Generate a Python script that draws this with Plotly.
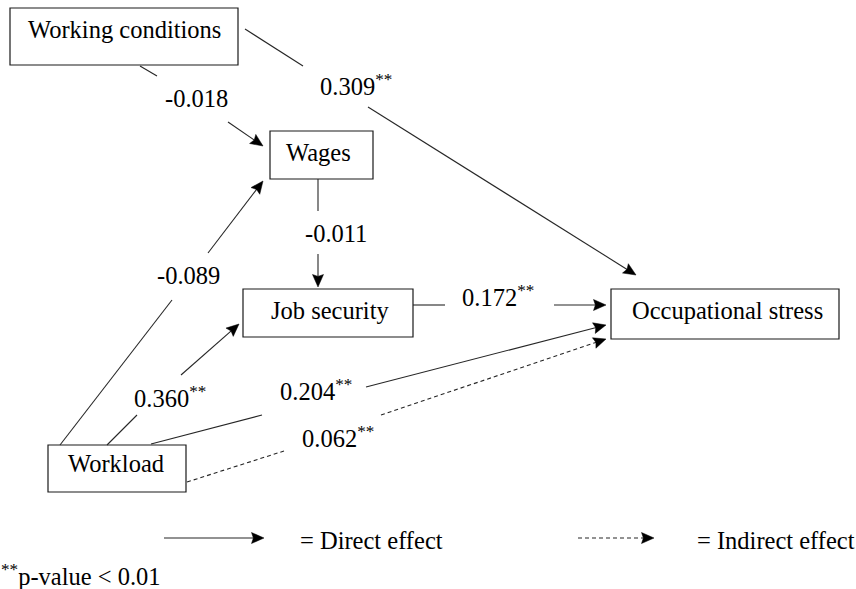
import plotly.graph_objects as go

# ---------------- data ----------------
node_names = ["Working conditions", "Wages", "Job security", "Occupational stress", "Workload"]
path_from = ["Working conditions", "Working conditions", "Wages", "Workload", "Workload", "Workload", "Workload", "Job security"]
path_to = ["Wages", "Occupational stress", "Job security", "Wages", "Job security", "Occupational stress", "Occupational stress", "Occupational stress"]
path_coef = ["-0.018", "0.309", "-0.011", "-0.089", "0.360", "0.204", "0.062", "0.172"]
path_signif = [False, True, False, False, True, True, True, True]
path_effect = ["direct", "direct", "direct", "direct", "direct", "direct", "indirect", "direct"]
legend_labels = ["= Direct effect", "= Indirect effect"]
legend_kinds = ["direct", "indirect"]
footnote_text = "p-value < 0.01"
signif_mark = "**"

# ---------------- layout (pixel coordinates) ----------------
W, H = 856, 589
box_rect = {  # x0, y0, x1, y1
    "Working conditions": (10, 8, 238, 65),
    "Wages": (270, 131, 373, 179),
    "Job security": (243, 289, 413, 337),
    "Occupational stress": (611, 289, 839, 339),
    "Workload": (48, 445, 186, 492),
}
box_text_pos = {
    "Working conditions": (124, 29),
    "Wages": (318, 152),
    "Job security": (330, 310),
    "Occupational stress": (727, 310),
    "Workload": (116, 463),
}
# start, gap-begin, gap-end, arrow tip
path_geom = [
    ((140, 66), (157, 76), (228, 122), (263, 146)),
    ((245, 29), (303, 66), (368, 107), (636, 275)),
    ((318, 179), (318, 211), (318, 254), (318, 287)),
    ((60, 445), (172, 300), (208, 253), (263, 181)),
    ((107, 445), (137, 415), (181, 375), (239, 324)),
    ((151, 444), (262, 415), (366, 387), (606, 325)),
    ((187, 482), (284, 451), (381, 415), (606, 339)),
    ((413, 305), (445, 305), (554, 305), (606, 305)),
]
label_pos = [  # left x, middle y of the number
    (163, 98), (318, 85), (303, 233), (155, 275), (132, 397), (278, 390), (300, 437), (460, 296),
]
legend_geom = [((164, 538), (264, 538), (298, 540)), ((578, 538), (654, 538), (695, 540))]
footnote_pos = (0, 575)

FONT = "Liberation Serif, Times New Roman, serif"
LINE_C = "#262626"
BOX_C = "#1a1a1a"
FS = 24.5
HEAD_L, HEAD_W = 12.5, 5.5
DASH = "4px,3px"

fig = go.Figure()
shapes = []
annotations = []


def seg(p0, p1, dash):
    shapes.append(dict(type="line", x0=p0[0], y0=p0[1], x1=p1[0], y1=p1[1],
                       xref="x", yref="y", line=dict(color=LINE_C, width=1.1, dash=dash)))


def head(p0, p1):
    dx, dy = p1[0] - p0[0], p1[1] - p0[1]
    L = (dx * dx + dy * dy) ** 0.5
    ux, uy = dx / L, dy / L
    nx, ny = -uy, ux
    bx, by = p1[0] - ux * HEAD_L, p1[1] - uy * HEAD_L
    mx, my = p1[0] - ux * HEAD_L * 0.85, p1[1] - uy * HEAD_L * 0.85
    pts = [(p1[0], p1[1]), (bx + nx * HEAD_W, by + ny * HEAD_W), (mx, my),
           (bx - nx * HEAD_W, by - ny * HEAD_W)]
    path = "M " + " L ".join(f"{x:.2f},{y:.2f}" for x, y in pts) + " Z"
    shapes.append(dict(type="path", path=path, xref="x", yref="y",
                       fillcolor="black", line=dict(color="black", width=0.5)))


def arrow_line(p0, p1, kind):
    dx, dy = p1[0] - p0[0], p1[1] - p0[1]
    L = (dx * dx + dy * dy) ** 0.5
    end = (p1[0] - dx / L * HEAD_L * 0.8, p1[1] - dy / L * HEAD_L * 0.8)
    seg(p0, end, "solid" if kind == "direct" else DASH)
    head(p0, p1)


def text(x, y, s, xanchor, xshift=0):
    annotations.append(dict(x=x, y=y, xref="x", yref="y", text=s, showarrow=False,
                            xanchor=xanchor, yanchor="middle", xshift=xshift,
                            font=dict(family=FONT, size=FS, color="black")))


# boxes
for name in node_names:
    x0, y0, x1, y1 = box_rect[name]
    shapes.append(dict(type="rect", x0=x0, y0=y0, x1=x1, y1=y1, xref="x", yref="y",
                       line=dict(color=BOX_C, width=1.2), fillcolor="white", layer="below"))
    tx, ty = box_text_pos[name]
    text(tx, ty, name, "center")

# paths
for i in range(len(path_coef)):
    s, g0, g1, t = path_geom[i]
    kind = path_effect[i]
    seg(s, g0, "solid" if kind == "direct" else DASH)
    arrow_line(g1, t, kind)
    txt = path_coef[i] + ("<sup>" + signif_mark + "</sup>" if path_signif[i] else "")
    lx, ly = label_pos[i]
    text(lx, ly, txt, "left")

# legend
for (p0, p1, tp), lab, kind in zip(legend_geom, legend_labels, legend_kinds):
    arrow_line(p0, p1, kind)
    text(tp[0], tp[1], lab, "left")

text(footnote_pos[0], footnote_pos[1], "<sup>" + signif_mark + "</sup>" + footnote_text,
     "left", xshift=-1)

fig.update_layout(
    width=W, height=H, margin=dict(l=0, r=0, t=0, b=0),
    paper_bgcolor="white", plot_bgcolor="white",
    xaxis=dict(range=[0, W], visible=False, fixedrange=True),
    yaxis=dict(range=[H, 0], visible=False, fixedrange=True),
    shapes=shapes, annotations=annotations, showlegend=False,
)

fig.write_html(
    "out.html",
    config={"displayModeBar": False},
    post_script="document.body.style.margin='0';document.body.style.padding='0';"
                "document.body.style.overflow='hidden';",
)
